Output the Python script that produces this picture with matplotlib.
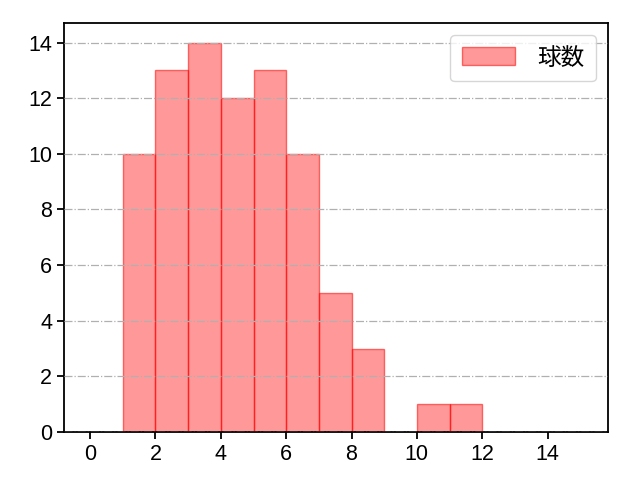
import matplotlib
matplotlib.use("Agg")
import matplotlib.pyplot as plt

plt.rcParams['font.family'] = ['Noto Sans CJK JP', 'DejaVu Sans']

# bin left edges and counts
bin_left = [1, 2, 3, 4, 5, 6, 7, 8, 9, 10, 11]
counts = [10, 13, 14, 12, 13, 10, 5, 3, 0, 1, 1]
label = "球数"

fig = plt.figure(figsize=(6.4, 4.8), dpi=100)
ax = fig.add_axes([0.1, 0.1, 0.85, 0.852])
ax.bar(bin_left, counts, width=1.0, align="edge", color=(1, 0, 0, 0.4),
       edgecolor=(1, 0, 0, 0.55), linewidth=1.0, label=label)
ax.set_xlim(-0.8, 15.85)
ax.set_ylim(0, 14.7)
ax.set_xticks(range(0, 15, 2))
ax.set_yticks(range(0, 15, 2))
ax.tick_params(width=1.3, length=5)
for t in ax.get_xticklabels() + ax.get_yticklabels():
    t.set_fontfamily(['Liberation Sans', 'DejaVu Sans'])
    t.set_fontsize(15.5)
for s in ax.spines.values():
    s.set_linewidth(1.3)
ax.set_axisbelow(False)
ax.grid(axis="y", linestyle="-.", color="#b0b0b0", linewidth=0.9)
ax.legend(loc="upper right", fontsize=17, handlelength=2.25, handleheight=0.8,
          handletextpad=0.95, borderpad=0.5)
fig.savefig("out.png", dpi=100)
